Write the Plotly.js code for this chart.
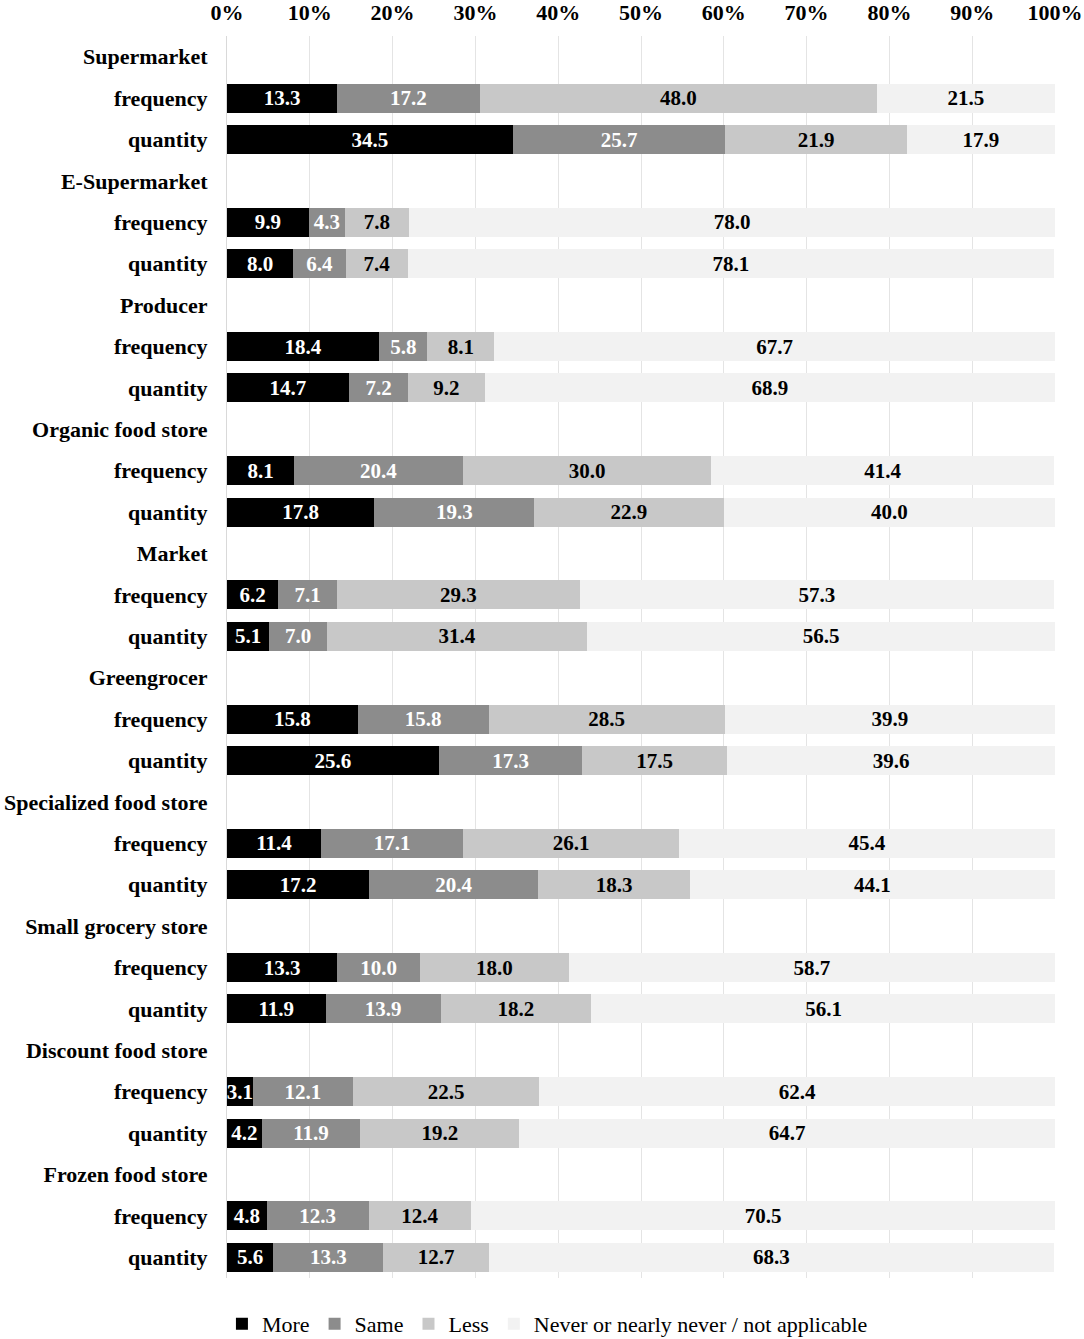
<!DOCTYPE html>
<html>
<head>
<meta charset="utf-8">
<script src="https://cdn.plot.ly/plotly-3.0.1.min.js"></script>
<style>
  html, body { margin: 0; padding: 0; background: #fff; }
  #chart { width: 1084px; height: 1339px; }
</style>
</head>
<body>
<div id="chart"></div>
<script>
// Row labels (group headers have no bars)
const rowLabels = [
    'Supermarket', 'frequency', 'quantity',
    'E-Supermarket', 'frequency', 'quantity',
    'Producer', 'frequency', 'quantity',
    'Organic food store', 'frequency', 'quantity',
    'Market', 'frequency', 'quantity',
    'Greengrocer', 'frequency', 'quantity',
    'Specialized food store', 'frequency', 'quantity',
    'Small grocery store', 'frequency', 'quantity',
    'Discount food store', 'frequency', 'quantity',
    'Frozen food store', 'frequency', 'quantity'
];

// Shares in % (null on header rows)
const more = [null, 13.3, 34.5, null, 9.9, 8.0, null, 18.4, 14.7, null, 8.1, 17.8,
    null, 6.2, 5.1, null, 15.8, 25.6, null, 11.4, 17.2, null, 13.3, 11.9,
    null, 3.1, 4.2, null, 4.8, 5.6];
const same = [null, 17.2, 25.7, null, 4.3, 6.4, null, 5.8, 7.2, null, 20.4, 19.3,
    null, 7.1, 7.0, null, 15.8, 17.3, null, 17.1, 20.4, null, 10.0, 13.9,
    null, 12.1, 11.9, null, 12.3, 13.3];
const less = [null, 48.0, 21.9, null, 7.8, 7.4, null, 8.1, 9.2, null, 30.0, 22.9,
    null, 29.3, 31.4, null, 28.5, 17.5, null, 26.1, 18.3, null, 18.0, 18.2,
    null, 22.5, 19.2, null, 12.4, 12.7];
const never = [null, 21.5, 17.9, null, 78.0, 78.1, null, 67.7, 68.9, null, 41.4, 40.0,
    null, 57.3, 56.5, null, 39.9, 39.6, null, 45.4, 44.1, null, 58.7, 56.1,
    null, 62.4, 64.7, null, 70.5, 68.3];

const seriesNames = ['More', 'Same', 'Less', 'Never or nearly never / not applicable'];
const seriesColors = ['#000000', '#8c8c8c', '#c8c8c8', '#f2f2f2'];
const labelColors = ['#ffffff', '#ffffff', '#000000', '#000000'];

const font = 'Liberation Serif, Times New Roman, serif';
const rows = rowLabels.map((_, i) => i);

const traces = [more, same, less, never].map((vals, k) => ({
    type: 'bar',
    orientation: 'h',
    name: seriesNames[k],
    y: rows,
    x: vals,
    width: 0.7,
    marker: { color: seriesColors[k], line: { width: 0 } },
    text: vals.map(v => v == null ? '' : v.toFixed(1)),
    textposition: 'inside',
    insidetextanchor: 'middle',
    textangle: 0,
    constraintext: 'none',
    insidetextfont: { family: font, size: 21, color: labelColors[k], weight: 'bold' },
    hoverinfo: 'x+name'
}));

const layout = {
    width: 1084,
    height: 1339,
    barmode: 'stack',
    paper_bgcolor: '#ffffff',
    plot_bgcolor: '#ffffff',
    margin: { t: 36, l: 227, r: 29, b: 61, autoexpand: false },
    font: { family: font, size: 22, color: '#000000' },
    xaxis: {
        side: 'top',
        range: [0, 100],
        dtick: 10,
        ticksuffix: '%',
        tickfont: { family: font, size: 22, weight: 'bold' },
        ticklabelstandoff: 11,
        showgrid: true,
        gridcolor: '#e4e4e4',
        gridwidth: 1,
        zeroline: false,
        showline: false,
        ticks: '',
        fixedrange: true
    },
    yaxis: {
        range: [29.5, -0.5],
        tickvals: rows,
        ticktext: rowLabels,
        tickfont: { family: font, size: 22, weight: 'bold' },
        ticks: '',
        ticklabelstandoff: 14,
        showgrid: false,
        zeroline: false,
        showline: true,
        linecolor: '#d9d9d9',
        linewidth: 1,
        fixedrange: true
    },
    showlegend: true,
    legend: {
        orientation: 'h',
        x: 0.387,
        xanchor: 'center',
        y: -0.037,
        yanchor: 'middle',
        traceorder: 'normal',
        font: { family: font, size: 22, color: '#000000' },
        itemwidth: 30
    }
};

Plotly.newPlot('chart', traces, layout, { displayModeBar: false, staticPlot: true });
</script>
</body>
</html>
